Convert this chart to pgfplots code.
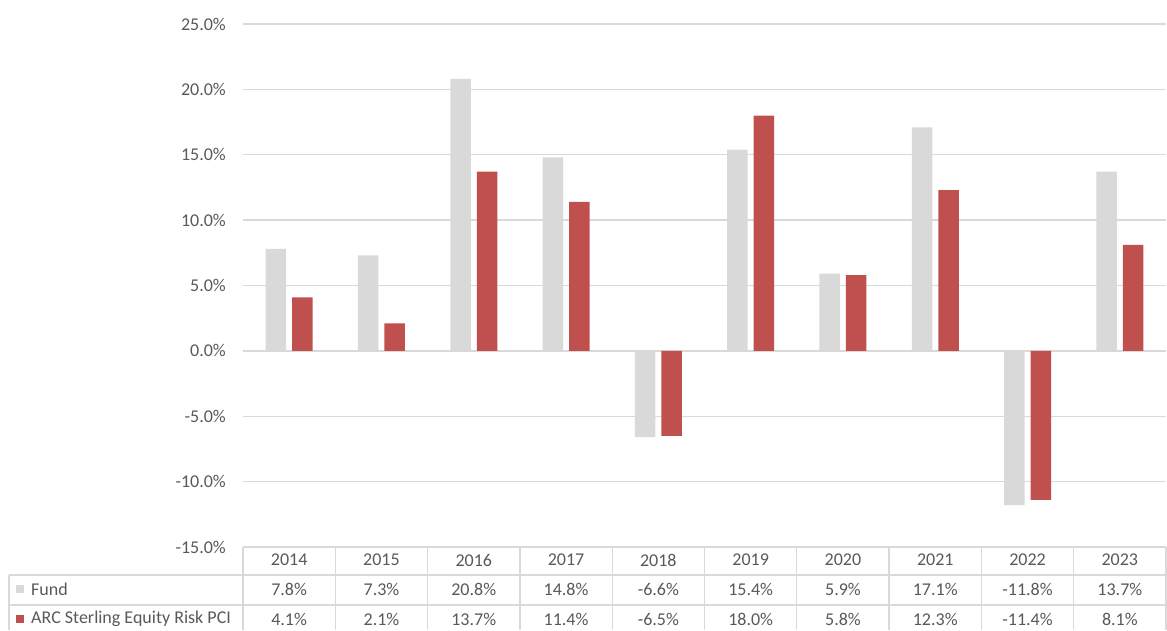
\documentclass[border=0pt]{standalone}
\usepackage{pgfplots}
\pgfplotsset{compat=1.18}
\usepackage{fontspec}
\setmainfont{Carlito}
\definecolor{fundgray}{RGB}{217,217,217}
\definecolor{arcred}{RGB}{192,80,77}
\definecolor{txt}{RGB}{89,89,89}
\definecolor{gridc}{RGB}{217,217,217}
\begin{document}
\begin{tikzpicture}[x=1pt,y=1pt,font=\fontsize{18}{21}\selectfont]
\useasboundingbox (0,0) rectangle (1167,630);
\begin{axis}[
 at={(243pt,83pt)}, anchor=south west,
 scale only axis, width=923pt, height=523pt,
 xmin=-0.5, xmax=9.5, ymin=-15, ymax=25,
 ytick={-15,-10,...,25},
 /pgf/number format/assume math mode=true,
 yticklabel={\pgfmathprintnumber[fixed,fixed zerofill,precision=1]{\tick}\%},
 xtick=\empty,
 axis line style={draw=none},
 ymajorgrids, grid style={gridc, line width=1.3pt},
 major tick length=0pt,
 tick label style={txt, font=\fontsize{18}{21}\selectfont},
 yticklabel style={anchor=east, inner xsep=0pt, xshift=-17pt},
 ybar=6pt, bar width=20.5pt,
]
\addplot[fill=fundgray, draw=none] coordinates {(0,7.8) (1,7.3) (2,20.8) (3,14.8) (4,-6.6) (5,15.4) (6,5.9) (7,17.1) (8,-11.8) (9,13.7)};
\addplot[fill=arcred, draw=none] coordinates {(0,4.1) (1,2.1) (2,13.7) (3,11.4) (4,-6.5) (5,18.0) (6,5.8) (7,12.3) (8,-11.4) (9,8.1)};
\end{axis}
% data table
\begin{scope}[gridc, line width=1.3pt]
\draw (243,83) -- (1166,83);
\draw (9,55) -- (1166,55);
\draw (9,25) -- (1166,25);
\draw (9,55) -- (9,0);
\foreach \i in {0,...,10} \draw (243+92.3*\i,83) -- (243+92.3*\i,0);
\end{scope}
\foreach \yr [count=\i from 0] in {2014,2015,2016,2017,2018,2019,2020,2021,2022,2023}
  \node[txt] at (289.15+92.3*\i,70) {\yr};
\foreach \v [count=\i from 0] in {7.8,7.3,20.8,14.8,-6.6,15.4,5.9,17.1,-11.8,13.7}
  \node[txt] at (289.15+92.3*\i,40.5) {\v\%};
\foreach \v [count=\i from 0] in {4.1,2.1,13.7,11.4,-6.5,18.0,5.8,12.3,-11.4,8.1}
  \node[txt] at (289.15+92.3*\i,11) {\v\%};
\fill[fundgray] (16,37) rectangle (24,45);
\node[txt, anchor=west, inner xsep=0pt] at (31,40.5) {Fund};
\fill[arcred] (16,7) rectangle (24,15);
\node[txt, anchor=west, inner xsep=0pt] at (31,11) {ARC Sterling Equity Risk PCI};
\end{tikzpicture}
\end{document}
